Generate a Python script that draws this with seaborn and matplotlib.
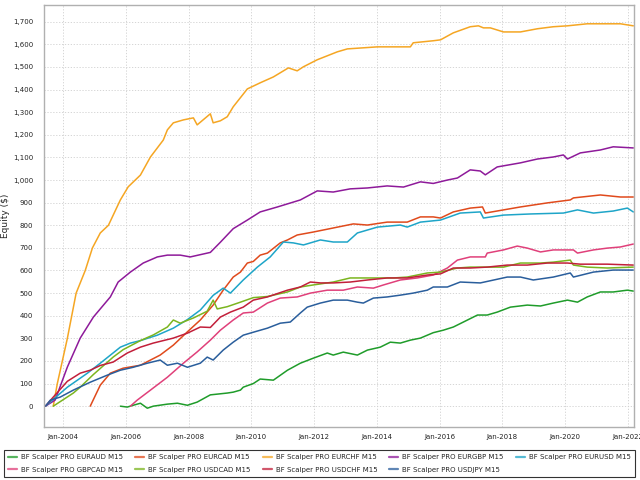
import pandas as pd
import matplotlib
matplotlib.use('Agg')
import matplotlib.pyplot as plt
import matplotlib.ticker as mticker
import seaborn as sns

# Series names and colours
systems = ['EURAUD', 'EURCAD', 'EURCHF', 'EURGBP', 'EURUSD',
           'GBPCAD', 'USDCAD', 'USDCHF', 'USDJPY']
colors = ['#1f9c2a', '#e04a1c', '#f5a623', '#8e1a9a', '#1ea5c8',
          '#e0407a', '#7bb51f', '#c21f3a', '#2a5e9c']

# Equity curves (decimal year, $)
eurchf_x = [2003.68, 2003.81, 2004.13, 2004.41, 2004.70, 2004.93, 2005.18, 2005.44, 2005.82,
            2006.07, 2006.46, 2006.78, 2007.19, 2007.32, 2007.51, 2007.83, 2008.15, 2008.27,
            2008.69, 2008.78, 2009.01, 2009.23, 2009.42, 2009.87, 2010.28, 2010.70, 2011.18,
            2011.46, 2011.66, 2012.10, 2012.74, 2013.06, 2014.02, 2015.07, 2015.16, 2015.80,
            2016.03, 2016.44, 2016.98, 2017.24, 2017.40, 2017.62, 2018.04, 2018.58, 2019.12,
            2019.63, 2020.08, 2020.71, 2021.77, 2022.18]
eurchf_y = [0, 100, 300, 500, 600, 700, 766, 800, 912,
            970, 1022, 1102, 1177, 1222, 1253, 1266, 1275, 1244,
            1293, 1253, 1262, 1280, 1324, 1403, 1430, 1456, 1496,
            1483, 1501, 1532, 1567, 1580, 1589, 1589, 1607, 1616,
            1620, 1651, 1678, 1682, 1673, 1673, 1655, 1655, 1669,
            1678, 1682, 1691, 1691, 1682]

eurgbp_x = [2003.43, 2003.74, 2004.13, 2004.54, 2004.96, 2005.50, 2005.75, 2006.14, 2006.55,
            2007.00, 2007.32, 2007.73, 2008.05, 2008.37, 2008.69, 2009.01, 2009.42, 2009.87,
            2010.28, 2010.83, 2011.56, 2012.10, 2012.61, 2013.15, 2013.70, 2014.33, 2014.85,
            2015.39, 2015.80, 2016.25, 2016.57, 2016.98, 2017.30, 2017.46, 2017.84, 2018.58,
            2019.12, 2019.63, 2019.95, 2020.08, 2020.49, 2021.13, 2021.54, 2022.18]
eurgbp_y = [0, 27, 173, 301, 394, 483, 549, 593, 633,
            660, 668, 668, 660, 670, 680, 725, 785, 823,
            859, 881, 912, 952, 947, 961, 965, 974, 969,
            992, 985, 1000, 1009, 1045, 1040, 1023, 1058, 1076,
            1093, 1102, 1111, 1093, 1120, 1133, 1147, 1142]

eurcad_x = [2004.86, 2005.18, 2005.50, 2005.91, 2006.46, 2007.09, 2007.51, 2007.96, 2008.37,
            2008.78, 2009.10, 2009.42, 2009.65, 2009.87, 2010.06, 2010.28, 2010.51, 2010.92,
            2011.15, 2011.46, 2011.97, 2012.61, 2013.25, 2013.70, 2014.33, 2014.97, 2015.39,
            2015.80, 2016.03, 2016.44, 2016.98, 2017.37, 2017.46, 2018.04, 2018.58, 2019.44,
            2020.17, 2020.27, 2021.13, 2021.77, 2022.18]
eurcad_y = [0, 93, 146, 168, 181, 226, 270, 329, 381,
            447, 513, 571, 593, 633, 640, 668, 677, 722,
            735, 757, 770, 788, 806, 801, 814, 814, 837,
            837, 832, 859, 876, 881, 854, 868, 881, 899,
            912, 921, 934, 925, 925]

eurusd_x = [2003.43, 2004.13, 2004.77, 2005.18, 2005.82, 2006.14, 2006.46, 2007.00, 2007.51,
            2007.96, 2008.37, 2008.78, 2009.10, 2009.33, 2009.74, 2010.19, 2010.60, 2011.02,
            2011.34, 2011.66, 2012.20, 2012.61, 2013.06, 2013.38, 2014.02, 2014.75, 2014.97,
            2015.39, 2016.03, 2016.66, 2017.30, 2017.40, 2018.04, 2018.90, 2019.95, 2020.40,
            2020.91, 2021.54, 2021.99, 2022.18]
eurusd_y = [0, 84, 146, 190, 261, 279, 290, 314, 345,
            383, 425, 490, 522, 500, 558, 615, 660, 726,
            722, 713, 735, 726, 726, 766, 792, 801, 792,
            814, 823, 854, 859, 832, 845, 850, 854, 868,
            854, 863, 876, 859]

gbpcad_x = [2006.14, 2006.36, 2006.78, 2007.32, 2007.83, 2008.27, 2008.69, 2009.01, 2009.42,
            2009.74, 2010.06, 2010.51, 2010.92, 2011.46, 2011.88, 2012.42, 2012.93, 2013.38,
            2013.89, 2014.21, 2014.75, 2015.29, 2015.80, 2016.25, 2016.57, 2016.98, 2017.46,
            2017.52, 2018.04, 2018.48, 2018.80, 2019.22, 2019.63, 2020.27, 2020.40, 2020.91,
            2021.35, 2021.77, 2022.18]
gbpcad_y = [0, 27, 71, 128, 190, 240, 292, 336, 381,
            412, 416, 456, 478, 483, 500, 513, 513, 527,
            522, 536, 558, 567, 580, 611, 646, 660, 660,
            677, 691, 708, 699, 682, 691, 691, 677, 691,
            699, 704, 717]

usdcad_x = [2003.68, 2004.32, 2004.54, 2004.96, 2005.59, 2005.91, 2006.46, 2006.87, 2007.32,
            2007.51, 2007.73, 2008.15, 2008.59, 2008.78, 2008.91, 2009.23, 2009.65, 2010.06,
            2010.51, 2011.15, 2011.56, 2011.97, 2012.61, 2013.15, 2013.89, 2014.53, 2014.97,
            2015.61, 2016.03, 2016.57, 2016.98, 2018.04, 2018.58, 2019.22, 2019.63, 2020.17,
            2020.27, 2020.71, 2021.35, 2022.18]
usdcad_y = [0, 58, 84, 140, 217, 250, 290, 315, 350,
            381, 367, 390, 420, 469, 430, 440, 460, 480,
            485, 505, 527, 536, 549, 567, 567, 567, 571,
            589, 593, 611, 615, 615, 633, 633, 637, 646,
            624, 615, 611, 615]

usdchf_x = [2003.43, 2003.68, 2004.13, 2004.54, 2004.86, 2005.18, 2005.59, 2006.04, 2006.46,
            2006.87, 2007.51, 2007.96, 2008.37, 2008.69, 2009.01, 2009.33, 2009.74, 2010.06,
            2010.51, 2011.15, 2011.56, 2011.88, 2012.20, 2012.61, 2013.15, 2013.70, 2014.33,
            2014.97, 2015.61, 2016.03, 2016.44, 2016.98, 2017.52, 2018.16, 2018.80, 2019.44,
            2020.08, 2020.49, 2021.35, 2022.18]
usdchf_y = [0, 40, 110, 146, 159, 180, 195, 235, 261,
            279, 301, 323, 350, 348, 394, 416, 438, 469,
            483, 513, 527, 549, 545, 545, 549, 558, 567,
            567, 580, 585, 611, 611, 615, 624, 624, 633,
            633, 628, 628, 624]

usdjpy_x = [2003.43, 2003.59, 2003.90, 2004.32, 2004.86, 2005.40, 2005.82, 2006.23, 2006.68,
            2007.09, 2007.32, 2007.64, 2007.96, 2008.37, 2008.59, 2008.78, 2009.10, 2009.42,
            2009.74, 2010.06, 2010.51, 2010.92, 2011.24, 2011.56, 2011.78, 2012.20, 2012.61,
            2013.06, 2013.38, 2013.57, 2013.89, 2014.33, 2014.75, 2015.16, 2015.61, 2015.80,
            2016.25, 2016.66, 2017.30, 2018.16, 2018.58, 2018.99, 2019.63, 2020.17, 2020.27,
            2020.91, 2021.54, 2022.18]
usdjpy_y = [0, 27, 40, 71, 106, 137, 159, 172, 190,
            204, 181, 190, 172, 190, 217, 204, 248, 283,
            314, 327, 345, 367, 372, 412, 438, 456, 469,
            469, 460, 456, 478, 483, 491, 500, 513, 527,
            527, 549, 545, 571, 571, 558, 571, 589, 571,
            593, 602, 602]

euraud_x = [2005.82, 2006.04, 2006.23, 2006.46, 2006.68, 2006.87, 2007.32, 2007.64, 2007.96,
            2008.27, 2008.69, 2009.23, 2009.42, 2009.65, 2009.74, 2010.06, 2010.28, 2010.70,
            2011.15, 2011.56, 2011.97, 2012.42, 2012.61, 2012.93, 2013.38, 2013.70, 2014.11,
            2014.43, 2014.75, 2015.07, 2015.39, 2015.80, 2016.12, 2016.44, 2016.76, 2017.21,
            2017.52, 2017.84, 2018.26, 2018.80, 2019.22, 2019.63, 2020.08, 2020.40, 2020.71,
            2021.13, 2021.54, 2021.99, 2022.18]
euraud_y = [0, -4, 4, 13, -9, 0, 9, 13, 4,
            18, 50, 58, 62, 71, 84, 100, 120, 115,
            159, 190, 212, 235, 226, 239, 226, 248, 261,
            283, 279, 292, 301, 325, 336, 350, 372, 403,
            403, 416, 438, 447, 443, 456, 469, 460, 483,
            505, 505, 513, 509]

curves = {
    'EURAUD': (euraud_x, euraud_y), 'EURCAD': (eurcad_x, eurcad_y),
    'EURCHF': (eurchf_x, eurchf_y), 'EURGBP': (eurgbp_x, eurgbp_y),
    'EURUSD': (eurusd_x, eurusd_y), 'GBPCAD': (gbpcad_x, gbpcad_y),
    'USDCAD': (usdcad_x, usdcad_y), 'USDCHF': (usdchf_x, usdchf_y),
    'USDJPY': (usdjpy_x, usdjpy_y),
}
frames = []
for s in systems:
    xs, ys = curves[s]
    frames.append(pd.DataFrame({'year': xs, 'equity': ys,
                                'system': f'BF Scalper PRO {s} M15'}))
df = pd.concat(frames, ignore_index=True)
labels = [f'BF Scalper PRO {s} M15' for s in systems]
palette = dict(zip(labels, colors))

y_ticks = list(range(0, 1800, 100))
x_ticks = list(range(2004, 2024, 2))
x_labels = [f'Jan-{y}' for y in x_ticks]

sns.set_style('white')
plt.rcParams['font.family'] = ['DejaVu Sans']

fig = plt.figure(figsize=(6.4, 4.8), dpi=100)
ax = fig.add_axes([0.069, 0.110, 0.922, 0.880])

sns.lineplot(data=df, x='year', y='equity', hue='system', palette=palette,
             hue_order=labels, estimator=None, sort=False, linewidth=1.1,
             legend=False, ax=ax)

ax.set_xlim(2003.39, 2022.21)
ax.set_ylim(-93, 1775)
ax.set_xticks(x_ticks)
ax.set_xticklabels(x_labels)
ax.set_yticks(y_ticks)
ax.yaxis.set_major_formatter(mticker.StrMethodFormatter('{x:,.0f}'))
ax.tick_params(axis='both', labelsize=5, length=0, colors='#222222')
ax.tick_params(axis='y', pad=8)
ax.tick_params(axis='x', pad=5)
ax.grid(True, linestyle=(0, (1.5, 2)), color='#cfcfcf', linewidth=0.6)
for sp in ax.spines.values():
    sp.set_color('#b0b0b0')
    sp.set_linewidth(1.0)
ax.set_xlabel('')
ax.set_ylabel('Equity ($)', fontsize=6.5, labelpad=2)

# legend: row-major order across 5 columns
order = [0, 5, 1, 6, 2, 7, 3, 8, 4]
handles = [plt.Line2D([], [], color=colors[i], linewidth=1.6, alpha=0.75) for i in order]
leg = fig.legend(handles, [labels[i] for i in order], loc='lower left',
                 bbox_to_anchor=(0.004, 0.004, 0.990, 0.064), mode='expand',
                 ncol=5, fontsize=5, frameon=True, fancybox=False,
                 handlelength=1.3, handletextpad=0.6, borderaxespad=0.2,
                 labelspacing=0.9, borderpad=0.6)
leg.get_frame().set_edgecolor('black')
leg.get_frame().set_linewidth(0.8)

fig.savefig('out.png', dpi=100)
